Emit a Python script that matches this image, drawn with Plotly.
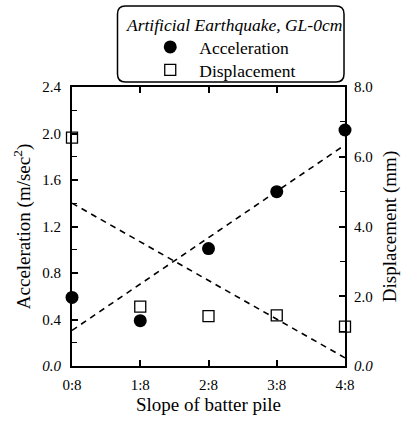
import numpy as np
import plotly.graph_objects as go

# Slope categories along the x axis
slopes = ["0:8", "1:8", "2:8", "3:8", "4:8"]
slope_pos = [0, 1, 2, 3, 4]

# Measured responses
acceleration = [0.59, 0.39, 1.01, 1.50, 2.03]   # m/sec^2 (left axis)
displacement = [6.55, 1.70, 1.43, 1.45, 1.13]   # mm (right axis)

acc_ticks = [0.0, 0.4, 0.8, 1.2, 1.6, 2.0, 2.4]
acc_ticklabels = ["<i>0.0</i>", "0.4", "0.8", "1.2", "1.6", "2.0", "2.4"]
disp_ticks = [0.0, 2.0, 4.0, 6.0, 8.0]
disp_ticklabels = ["<i>0.0</i>", "2.0", "4.0", "6.0", "8.0"]

FONT = "Liberation Serif"

# Linear least-squares trend lines
x = np.array(slope_pos, dtype=float)
acc_fit = np.polyval(np.polyfit(x, acceleration, 1), x)
disp_fit = np.polyval(np.polyfit(x, displacement, 1), x)

fig = go.Figure()

fig.add_trace(go.Scatter(
    x=slope_pos, y=acc_fit, mode="lines", showlegend=False,
    line=dict(color="black", width=1.6, dash="6px,5px"), hoverinfo="skip"))
fig.add_trace(go.Scatter(
    x=slope_pos, y=disp_fit, mode="lines", showlegend=False, yaxis="y2",
    line=dict(color="black", width=1.6, dash="6px,5px"), hoverinfo="skip"))

fig.add_trace(go.Scatter(
    x=slope_pos, y=acceleration, mode="markers", name="Acceleration", legend="legend",
    marker=dict(symbol="circle", size=13, color="black"), cliponaxis=False))
fig.add_trace(go.Scatter(
    x=slope_pos, y=displacement, mode="markers", name="Displacement", legend="legend2",
    yaxis="y2",
    marker=dict(symbol="square-open", size=11, color="black",
                line=dict(width=1.3, color="black")), cliponaxis=False))

L, R, T, B = 72, 61, 87, 58
W, H = 409, 424
pw, ph = W - L - R, H - T - B


def px_x(p):
    return (p - L) / pw


def px_y(p):
    return (H - B - p) / ph


# Rounded frame around the key
x0, x1 = px_x(118), px_x(347)
y0, y1 = px_y(82), px_y(6)
rx, ry = 8 / pw, 8 / ph
path = (f"M {x0+rx},{y1} L {x1-rx},{y1} Q {x1},{y1} {x1},{y1-ry} "
        f"L {x1},{y0+ry} Q {x1},{y0} {x1-rx},{y0} "
        f"L {x0+rx},{y0} Q {x0},{y0} {x0},{y0+ry} "
        f"L {x0},{y1-ry} Q {x0},{y1} {x0+rx},{y1} Z")
fig.add_shape(type="path", path=path, xref="paper", yref="paper",
              line=dict(color="black", width=1.5), fillcolor="white", layer="below")

fig.add_annotation(text="<i>Artificial Earthquake, GL-0cm</i>", xref="paper", yref="paper",
                   x=px_x(236), y=px_y(25), xanchor="center", yanchor="middle",
                   showarrow=False, font=dict(family=FONT, size=17.5, color="black"))

axis_common = dict(showline=True, linecolor="black", linewidth=2, ticks="inside",
                   tickcolor="black", showgrid=False, zeroline=False,
                   tickfont=dict(family=FONT, size=15, color="black"))

legend_common = dict(xanchor="left", yanchor="middle", bgcolor="rgba(0,0,0,0)",
                     borderwidth=0, font=dict(family=FONT, size=17.5, color="black"),
                     itemwidth=48)

fig.update_layout(
    width=W, height=H,
    margin=dict(l=L, r=R, t=T, b=B),
    paper_bgcolor="white", plot_bgcolor="white",
    font=dict(family=FONT, color="black"),
    showlegend=True,
    legend=dict(**legend_common, x=px_x(142), y=px_y(47)),
    legend2=dict(**legend_common, x=px_x(142), y=px_y(70)),
    xaxis=dict(**axis_common, range=[0, 4], tickvals=slope_pos, ticktext=slopes,
               mirror="ticks", ticklen=6, tickwidth=1.5, ticklabelstandoff=4,
               title=dict(text="Slope of batter pile", font=dict(family=FONT, size=19),
                          standoff=6)),
    yaxis=dict(**axis_common, range=[0, 2.4], tickvals=acc_ticks, ticktext=acc_ticklabels,
               mirror=True, ticklen=6, tickwidth=1.5, ticklabelstandoff=6,
               minor=dict(dtick=0.2, ticks="inside", ticklen=5, tickcolor="black", tickwidth=1.2),
               title=dict(text="Acceleration (m/sec<sup>2</sup>)",
                          font=dict(family=FONT, size=19), standoff=7)),
    yaxis2=dict(**axis_common, range=[0, 8], tickvals=disp_ticks, ticktext=disp_ticklabels,
                overlaying="y", side="right", ticklen=6, tickwidth=1.5, ticklabelstandoff=4,
                minor=dict(dtick=1, ticks="inside", ticklen=5, tickcolor="black", tickwidth=1.2),
                title=dict(text="Displacement (mm)", font=dict(family=FONT, size=19),
                           standoff=10)),
)

fig.write_html("out.html")
